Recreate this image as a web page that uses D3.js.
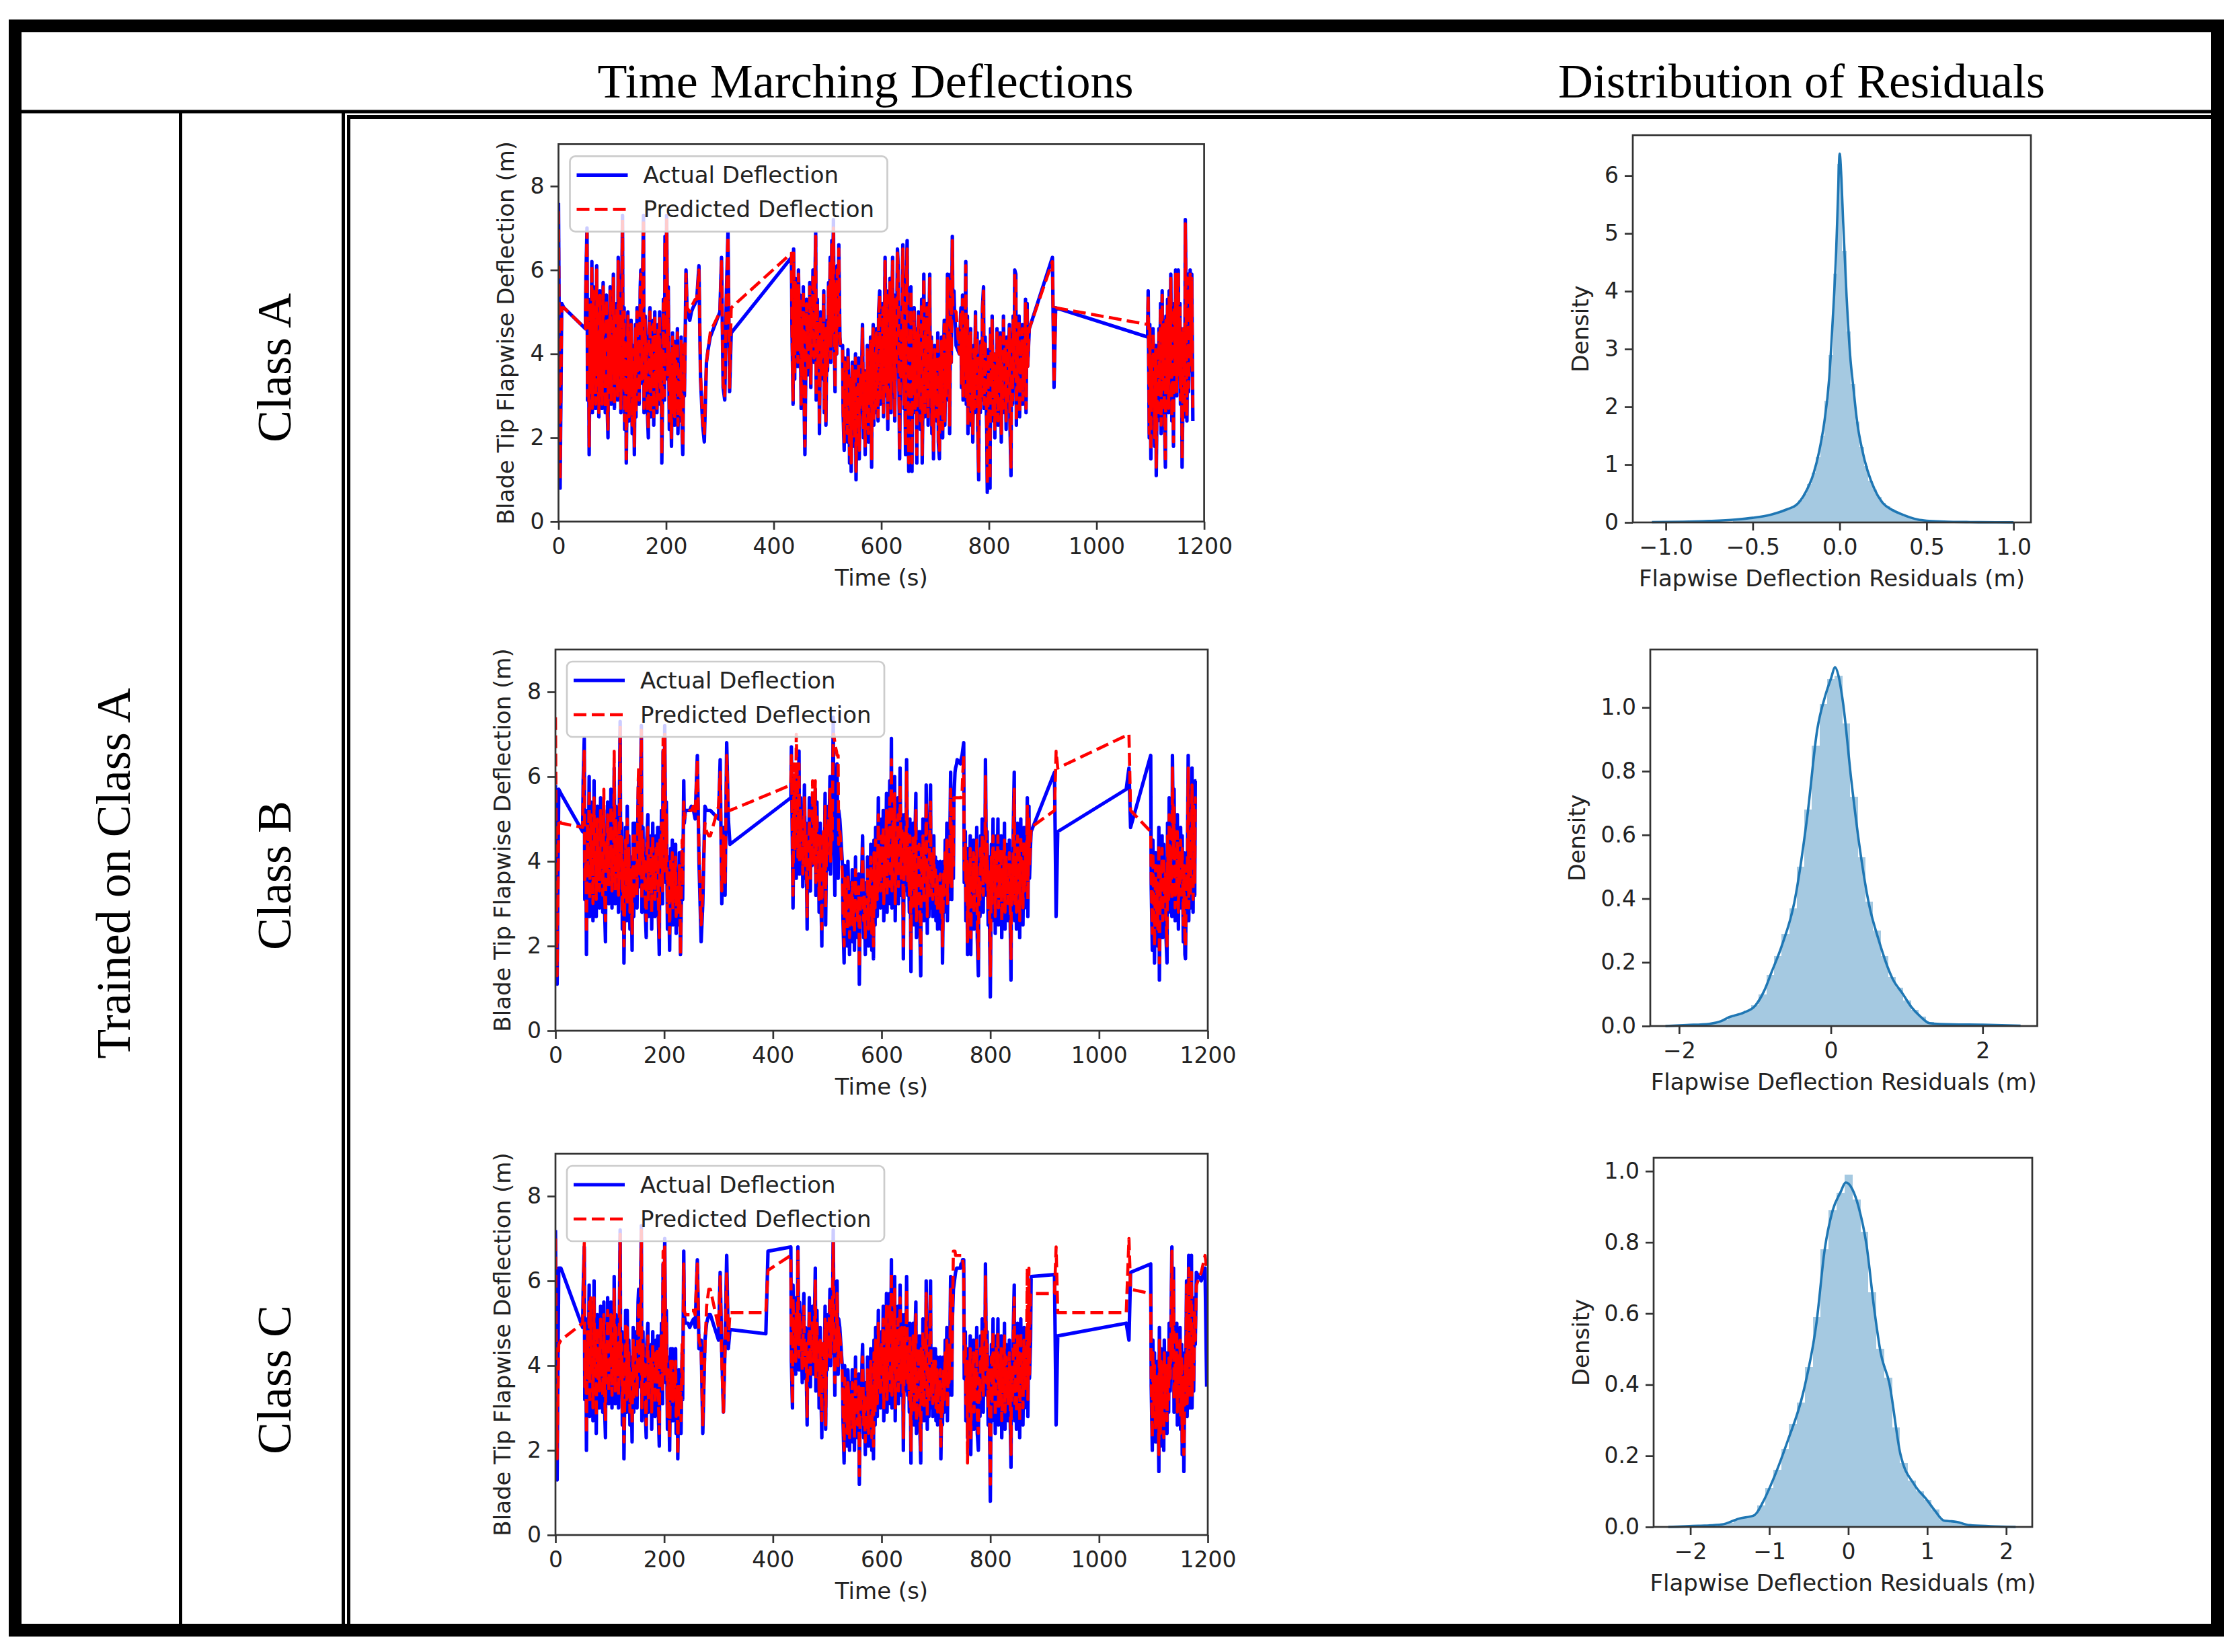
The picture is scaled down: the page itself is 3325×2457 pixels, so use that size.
<!DOCTYPE html>
<html>
<head>
<meta charset="utf-8">
<script src="https://cdn.jsdelivr.net/npm/d3@7"></script>
<style>
  body { margin: 0; background: #fff; }
  svg { display: block; }
</style>
</head>
<body>
<script>
// ---- data ----
const colHeaders = ["Time Marching Deflections", "Distribution of Residuals"]
const rowGroup = "Trained on Class A"
const classes = ["Class A", "Class B", "Class C"]
const seriesNames = ["Actual Deflection", "Predicted Deflection"]

// shared time stamps (s) of the test records, one line per record block
const timeSteps = [
  0, 3, 6, 10,
  50, 51, 53, 54, 56, 57, 59, 60, 62, 63, 65, 66, 68, 69, 71, 72, 74, 75, 77, 78, 80, 81, 83, 84, 86, 87, 89, 90, 92, 93,
  95, 96, 98, 99, 101, 102, 104, 105, 107, 108, 110, 111, 113, 114, 116, 117, 119, 120, 122, 123, 125, 126, 128, 129, 131, 132, 134, 135, 137, 138,
  140, 141, 143, 144, 146, 147, 149, 150, 152, 153, 155, 156, 158, 159, 161, 162, 164, 165, 167, 168, 170, 171, 173, 174, 176, 177, 179, 180, 182, 183,
  185, 186, 188, 189, 191, 192, 194, 195, 197, 198, 200, 201, 203, 204, 206, 207, 209, 210, 212, 213, 215, 216, 218, 219, 221, 222, 224, 225, 227, 228,
  230, 231, 233, 234, 236, 237, 239,
  244, 247, 250, 254, 257, 261, 264, 268, 271, 275, 278, 282, 285, 300, 303, 306, 309, 312, 315, 318, 321,
  387, 391,
  433, 434, 436, 437, 439, 440, 442, 443, 445, 446, 448, 449, 451, 452, 454, 455, 457, 458, 460, 461, 463, 464, 466, 467, 469, 470, 472, 473, 475, 476,
  478, 479, 481, 482, 484, 485, 487, 488, 490, 491, 493, 494, 496, 497, 499, 500, 502, 503, 505, 506, 508, 509, 511, 512, 514, 515, 517, 518, 520, 521,
  523, 524,
  528, 529, 531, 532, 534, 535, 537, 538, 540, 541, 543, 544, 546, 547, 549, 550, 552, 553, 555, 556, 558, 559, 561, 562, 564, 565, 567, 568, 570, 571,
  573, 574, 576, 577, 579, 580, 582, 583, 585, 586, 588, 589, 591, 592, 594, 595, 597, 598, 600, 601, 603, 604, 606, 607, 609, 610, 612, 613, 615, 616,
  618, 619, 621, 622, 624, 625, 627, 628, 630, 631, 633, 634, 636, 637, 639, 640, 642, 643, 645, 646, 648, 649, 651, 652, 654, 655, 657, 658, 660, 661,
  663, 664, 666, 667, 669, 670, 672, 673, 675, 676, 678, 679, 681, 682, 684, 685, 687, 688, 690, 691, 693, 694, 696, 697, 699, 700, 702, 703, 705, 706,
  708, 709, 711, 712, 714, 715, 717, 718, 720, 721, 723, 724, 726, 727, 729, 730, 732, 733, 735, 736, 738, 739,
  745, 746, 748, 749, 751, 752, 754, 755, 757, 758, 760, 761, 763, 764, 766, 767, 769, 770, 772, 773, 775, 776, 778, 779, 781, 782, 784, 785, 787, 788,
  790, 791, 793, 794, 796, 797, 799, 800, 802, 803, 805, 806, 808, 809, 811, 812, 814, 815, 817, 818, 820, 821, 823, 824, 826, 827, 829, 830, 832, 833,
  835, 836, 838, 839, 841, 842, 844, 845, 847, 848, 850, 851, 853, 854, 856, 857, 859, 860, 862, 863, 865, 866, 868, 869, 871, 872, 874, 875,
  918, 921, 924,
  1050, 1055, 1058,
  1095, 1096, 1098, 1099, 1101, 1102, 1104, 1105, 1107, 1108, 1110, 1111, 1113, 1114, 1116, 1117, 1119, 1120, 1122, 1123,
  1125, 1126, 1128, 1129, 1131, 1132, 1134, 1135, 1137, 1138, 1140, 1141, 1143, 1144, 1146, 1147, 1149, 1150, 1152, 1153,
  1155, 1156, 1158, 1159, 1161, 1162, 1164, 1165, 1167, 1168, 1170, 1171, 1173, 1174, 1176, 1177, 1179,
  1188, 1195, 1198
]

const actualA = [
  7.6, 0.8, 5.2, 5.1,
  4.6, 5.8, 7.0, 2.9, 4.4, 1.6, 5.3, 3.0, 6.2, 2.6, 5.6, 3.2, 4.9, 2.7, 6.1, 3.5, 4.6, 2.5, 5.5, 3.1, 4.8, 2.7, 5.7, 3.4, 4.3, 2.6, 5.4, 3.0, 2.0, 4.9,
  3.2, 5.6, 2.8, 4.5, 3.6, 5.9, 2.7, 4.7, 3.3, 5.2, 2.9, 6.3, 3.4, 5.0, 2.6, 4.8, 7.3, 3.1, 5.1, 2.2, 4.4, 1.4, 3.9, 5.0, 2.4, 4.6, 2.9, 4.8, 2.1, 4.2,
  3.0, 1.6, 4.7, 2.5, 5.1, 3.6, 4.4, 2.8, 5.6, 6.0, 3.3, 5.5, 7.3, 2.6, 4.9, 3.2, 4.4, 2.7, 2.0, 4.6, 5.1, 2.5, 4.3, 3.3, 4.8, 2.3, 5.0, 3.1, 4.5, 2.6,
  4.7, 3.4, 5.0, 2.8, 4.2, 1.4, 3.7, 5.3, 2.9, 6.8, 4.1, 7.3, 3.4, 5.6, 2.2, 4.0, 2.7, 1.8, 4.5, 2.6, 4.3, 2.3, 3.9, 2.9, 4.6, 2.1, 3.6, 3.3, 2.4, 4.4,
  2.0, 1.6, 4.2, 3.0, 4.9, 6.0, 5.0,
  4.8, 5.0, 5.1, 5.2, 5.3, 6.1, 3.4, 2.3, 1.9, 3.8, 4.1, 4.4, 4.5, 5.0, 6.3, 3.2, 2.9, 5.4, 6.9, 3.1, 4.5,
  null, null,
  6.3, 4.6, 2.8, 6.5, 3.4, 5.8, 4.1, 5.5, 3.7, 6.0, 4.2, 5.4, 2.7, 4.9, 3.6, 5.6, 2.4, 1.6, 4.1, 5.3, 3.5, 5.0, 4.1, 5.7, 3.2, 5.2, 4.4, 6.0, 3.8, 5.1,
  6.9, 2.9, 5.3, 3.8, 4.6, 2.1, 5.0, 3.4, 4.8, 3.9, 5.5, 2.6, 4.4, 2.3, 4.8, 3.6, 5.7, 4.3, 6.3, 3.8, 6.7, 4.5, 7.2, 5.0, 3.1, 5.8, 4.0, 6.1, 4.7, 6.6,
  4.4, 4.2,
  4.2, 2.6, 1.7, 3.9, 2.4, 3.6, 1.9, 4.1, 2.8, 1.4, 3.4, 1.2, 3.8, 2.2, 3.5, 1.8, 4.0, 1.0, 3.2, 2.4, 3.9, 1.5, 3.4, 2.7, 4.0, 4.7, 2.0, 3.6, 1.6, 3.3,
  2.5, 4.2, 1.9, 3.7, 2.8, 4.4, 1.3, 3.9, 4.7, 2.3, 4.1, 2.6, 4.6, 3.1, 2.4, 5.0, 5.5, 2.8, 4.4, 3.2, 5.2, 2.5, 4.8, 6.3, 3.0, 5.5, 2.2, 4.7, 3.6, 5.8,
  2.6, 4.3, 6.3, 3.2, 5.4, 2.4, 4.9, 3.7, 6.5, 6.2, 2.9, 1.5, 4.6, 3.3, 5.7, 6.6, 2.7, 4.8, 1.6, 5.2, 6.7, 3.4, 1.2, 4.5, 2.8, 5.6, 1.2, 4.1, 3.0, 5.1,
  2.6, 4.6, 1.4, 3.8, 5.0, 2.9, 4.3, 2.2, 5.3, 1.4, 3.6, 5.9, 2.5, 4.7, 3.1, 5.2, 2.3, 4.0, 5.9, 2.8, 4.4, 2.1, 3.7, 1.5, 4.2, 2.9, 3.8, 2.4, 4.5, 1.9,
  1.5, 3.9, 2.6, 4.4, 2.0, 3.5, 4.8, 2.3, 4.1, 2.9, 5.9, 3.2, 4.6, 2.1, 5.9, 3.8, 6.8, 4.9, 5.5, 5.0, 4.6, 4.2,
  4.0, 4.4, 5.1, 3.2, 5.4, 2.9, 4.7, 3.6, 6.2, 2.8, 4.9, 2.1, 4.4, 3.0, 4.6, 2.3, 3.8, 1.9, 4.2, 2.6, 5.0, 3.2, 4.5, 2.4, 1.0, 3.9, 2.6, 4.3, 2.9, 5.1,
  5.6, 2.7, 4.4, 3.3, 2.2, 0.7, 4.1, 2.5, 0.8, 4.6, 3.1, 4.9, 2.4, 4.0, 2.0, 3.7, 2.8, 4.6, 2.3, 4.2, 3.0, 4.5, 1.9, 3.8, 2.6, 4.9, 3.2, 4.3, 2.2, 4.4,
  2.7, 3.9, 4.7, 2.4, 1.1, 4.5, 2.8, 4.9, 3.3, 6.0, 5.9, 2.3, 4.6, 3.0, 4.9, 2.5, 4.2, 3.4, 4.7, 2.8, 4.4, 3.1, 5.3, 2.6, 5.2, 3.7, 4.3, 4.6,
  6.3, 3.2, 5.1,
  null, null, null,
  4.4, 5.5, 2.0, 4.7, 1.5, 3.9, 2.6, 4.6, 3.1, 1.8, 4.2, 1.1, 3.6, 2.4, 4.6, 2.9, 5.2, 2.1, 5.5, 3.3,
  4.8, 2.7, 1.3, 4.9, 3.2, 5.3, 2.6, 5.5, 3.6, 5.9, 2.4, 4.8, 1.8, 5.2, 3.7, 6.0, 3.0, 5.6, 6.0, 3.5,
  5.2, 2.8, 4.6, 1.3, 3.4, 4.6, 2.5, 7.2, 4.4, 2.4, 5.9, 3.1, 4.8, 6.0, 3.6, 5.9, 2.4,
  null, null, null
]
const predictedA = [
  7.4, 1.0, 5.1, 5.1,
  4.6, 5.7, 6.9, 3.0, 4.3, 1.8, 5.2, 3.1, 6.1, 2.7, 5.5, 3.3, 4.8, 2.8, 6.0, 3.5, 4.5, 2.6, 5.4, 3.2, 4.7, 2.8, 5.6, 3.4, 4.3, 2.7, 5.3, 3.1, 2.2, 4.8,
  3.3, 5.5, 2.9, 4.4, 3.6, 5.8, 2.8, 4.6, 3.4, 5.1, 3.0, 6.2, 3.5, 4.9, 2.7, 4.7, 7.2, 3.2, 5.0, 2.4, 4.3, 1.5, 3.9, 4.9, 2.5, 4.5, 3.0, 4.7, 2.3, 4.1,
  3.1, 1.8, 4.6, 2.6, 5.0, 3.6, 4.3, 2.9, 5.5, 5.9, 3.4, 5.4, 7.2, 2.7, 4.8, 3.3, 4.3, 2.8, 2.2, 4.5, 5.0, 2.6, 4.2, 3.4, 4.7, 2.5, 4.9, 3.2, 4.4, 2.7,
  4.6, 3.5, 4.9, 2.9, 4.1, 1.6, 3.7, 5.2, 3.0, 6.7, 4.1, 7.2, 3.5, 5.5, 2.4, 4.0, 2.8, 2.0, 4.4, 2.7, 4.2, 2.5, 3.9, 3.0, 4.5, 2.3, 3.6, 3.4, 2.5, 4.3,
  2.2, 1.8, 4.2, 3.1, 4.8, 5.9, 5.1,
  5.0, 5.1, 5.2, 5.3, 5.3, 6.0, 3.5, 2.4, 2.1, 3.8, 4.1, 4.5, 4.6, 5.0, 6.2, 3.3, 3.0, 5.3, 6.8, 3.2, 5.1,
  null, null,
  6.4, 4.6, 2.9, 6.4, 3.5, 5.7, 4.1, 5.4, 3.8, 5.9, 4.2, 5.3, 2.8, 4.8, 3.7, 5.5, 2.6, 1.8, 4.1, 5.2, 3.6, 4.9, 4.1, 5.6, 3.3, 5.1, 4.4, 5.9, 3.9, 5.0,
  6.8, 3.0, 5.2, 3.8, 4.5, 2.3, 4.9, 3.5, 4.7, 3.9, 5.4, 2.7, 4.3, 2.4, 4.7, 3.7, 5.6, 4.3, 6.2, 3.9, 6.6, 4.5, 7.0, 5.0, 3.2, 5.7, 4.0, 6.0, 4.7, 6.5,
  4.4, 4.2,
  4.1, 2.7, 1.9, 3.8, 2.5, 3.6, 2.1, 4.0, 2.9, 1.6, 3.4, 1.4, 3.7, 2.3, 3.5, 2.0, 3.9, 1.2, 3.2, 2.5, 3.8, 1.7, 3.4, 2.8, 3.9, 4.6, 2.2, 3.6, 1.8, 3.3,
  2.6, 4.1, 2.1, 3.7, 2.9, 4.3, 1.5, 3.8, 4.6, 2.4, 4.0, 2.7, 4.5, 3.2, 2.5, 4.9, 5.4, 2.9, 4.3, 3.3, 5.1, 2.6, 4.7, 6.2, 3.1, 5.4, 2.4, 4.6, 3.6, 5.7,
  2.7, 4.3, 6.2, 3.3, 5.3, 2.5, 4.8, 3.7, 6.4, 6.1, 3.0, 1.7, 4.5, 3.4, 5.6, 6.5, 2.8, 4.7, 1.8, 5.1, 6.5, 3.5, 1.4, 4.4, 2.9, 5.5, 1.4, 4.1, 3.1, 5.0,
  2.7, 4.5, 1.6, 3.8, 4.9, 3.0, 4.2, 2.4, 5.2, 1.6, 3.6, 5.8, 2.6, 4.6, 3.2, 5.1, 2.5, 4.0, 5.8, 2.9, 4.3, 2.3, 3.7, 1.7, 4.1, 3.0, 3.8, 2.5, 4.4, 2.1,
  1.7, 3.9, 2.7, 4.3, 2.2, 3.5, 4.7, 2.4, 4.0, 3.0, 5.8, 3.3, 4.5, 2.3, 5.8, 3.8, 6.7, 5.1, 5.1, 5.1, 5.0, 5.0,
  4.0, 4.3, 5.0, 3.3, 5.3, 3.0, 4.6, 3.6, 6.1, 2.9, 4.8, 2.3, 4.3, 3.1, 4.5, 2.4, 3.8, 2.1, 4.1, 2.7, 4.9, 3.3, 4.4, 2.5, 1.2, 3.9, 2.7, 4.2, 3.0, 5.0,
  5.5, 2.8, 4.3, 3.4, 2.4, 0.9, 4.0, 2.6, 1.0, 4.5, 3.2, 4.8, 2.5, 4.0, 2.2, 3.7, 2.9, 4.5, 2.4, 4.1, 3.1, 4.4, 2.1, 3.8, 2.7, 4.8, 3.3, 4.2, 2.4, 4.3,
  2.8, 3.9, 4.6, 2.5, 1.3, 4.4, 2.9, 4.8, 3.4, 5.9, 5.8, 2.4, 4.5, 3.1, 4.8, 2.6, 4.1, 3.5, 4.6, 2.9, 4.3, 3.2, 5.2, 2.7, 5.1, 3.7, 4.3, 4.6,
  6.2, 3.3, 5.1,
  null, null, null,
  4.7, 5.4, 2.1, 4.6, 1.7, 3.9, 2.7, 4.5, 3.2, 2.0, 4.1, 1.3, 3.6, 2.5, 4.5, 3.0, 5.1, 2.3, 5.4, 3.4,
  4.7, 2.8, 1.5, 4.8, 3.3, 5.2, 2.7, 5.4, 3.6, 5.8, 2.5, 4.7, 1.9, 5.1, 3.7, 5.9, 3.1, 5.5, 5.9, 3.5,
  5.1, 2.9, 4.5, 1.5, 3.5, 4.6, 2.6, 7.1, 4.4, 2.5, 5.8, 3.2, 4.7, 5.9, 3.7, 5.8, 2.6,
  null, null, null
]

const actualB = [
  5.8, 1.1, 5.7, 5.6,
  4.7, 5.9, 6.9, 3.1, 4.5, 1.8, 5.2, 3.2, 6.0, 2.7, 5.4, 3.4, 4.8, 2.6, 5.9, 3.6, 4.4, 2.7, 5.3, 3.2, 4.6, 2.9, 5.5, 3.5, 4.2, 2.8, 5.2, 3.1, 2.1, 4.7,
  3.4, 5.4, 3.0, 4.4, 3.7, 5.7, 2.9, 4.6, 3.4, 6.2, 3.0, 5.3, 3.5, 4.9, 2.8, 4.6, 7.3, 3.3, 4.9, 2.4, 4.3, 1.6, 3.8, 4.8, 2.6, 5.3, 3.0, 4.6, 2.4, 4.1,
  2.9, 1.9, 4.9, 2.7, 4.9, 3.7, 4.3, 2.9, 5.4, 5.9, 3.4, 5.3, 7.2, 2.8, 4.8, 3.3, 4.3, 2.9, 2.2, 4.5, 5.1, 2.7, 4.2, 3.4, 4.6, 2.4, 4.9, 3.2, 4.4, 2.7,
  4.6, 3.5, 4.8, 2.9, 1.8, 4.8, 3.6, 5.2, 3.0, 6.6, 4.0, 7.2, 3.5, 5.4, 2.4, 4.1, 2.8, 1.9, 4.3, 2.8, 4.5, 2.5, 4.0, 3.0, 4.4, 2.3, 3.7, 3.4, 2.5, 4.2,
  1.8, 2.6, 4.2, 3.1, 5.9, 4.9, 5.2,
  5.2, 5.2, 5.3, 5.2, 5.0, 6.5, 4.0, 2.1, 3.0, 5.3, 5.2, 5.2, 5.2, 5.0, 6.4, 3.0, 4.8, 3.2, 6.8, 5.0, 4.4,
  null, null,
  5.5, 6.7, 4.2, 2.9, 5.8, 4.0, 5.3, 3.6, 6.1, 4.4, 6.6, 3.7, 5.5, 4.3, 5.0, 3.4, 4.6, 5.8, 3.6, 4.9, 2.4, 4.7, 4.1, 5.5, 3.3, 5.1, 3.9, 5.6, 4.2, 5.0,
  5.7, 3.2, 5.4, 4.0, 4.6, 2.8, 4.9, 3.5, 2.0, 4.4, 4.6, 3.1, 5.6, 2.5, 4.9, 3.8, 5.3, 4.5, 6.0, 3.7, 5.6, 4.2, 7.4, 5.1, 3.2, 5.5, 4.4, 6.3, 3.6, 5.2,
  5.0, 4.8,
  3.9, 2.6, 1.6, 3.9, 2.3, 3.6, 2.0, 4.0, 2.8, 1.8, 3.5, 2.4, 3.8, 2.1, 3.4, 1.9, 4.1, 2.5, 3.3, 2.2, 3.7, 1.1, 3.5, 2.6, 4.0, 4.6, 2.2, 3.5, 1.8, 3.4,
  2.6, 4.1, 2.0, 3.8, 2.9, 4.4, 1.9, 3.7, 1.7, 4.5, 2.5, 4.8, 3.2, 2.7, 5.5, 3.1, 4.6, 2.9, 5.0, 3.4, 5.2, 2.6, 4.6, 3.3, 5.6, 2.8, 4.9, 3.8, 5.9, 3.0,
  6.9, 2.9, 5.3, 3.5, 6.0, 2.6, 4.8, 3.6, 5.5, 3.0, 4.8, 6.2, 3.2, 5.1, 3.9, 1.7, 5.1, 3.3, 4.6, 6.4, 3.2, 4.6, 2.8, 5.0, 1.4, 4.5, 3.0, 4.9, 2.5, 4.3,
  5.6, 2.2, 4.0, 3.4, 4.7, 2.6, 1.3, 4.7, 3.0, 5.0, 2.6, 4.4, 3.5, 5.8, 2.3, 4.2, 2.7, 4.6, 5.8, 2.9, 4.3, 2.7, 4.6, 3.3, 4.1, 2.6, 4.0, 2.4, 3.6, 2.9,
  4.0, 2.4, 3.7, 1.6, 4.0, 2.8, 4.5, 3.1, 4.9, 2.6, 4.4, 3.1, 5.0, 6.1, 3.1, 5.0, 3.6, 5.5, 6.1, 6.2, 6.3, 6.4,
  6.3, 6.4, 6.5, 6.6, 6.8, 3.5, 4.7, 2.6, 4.3, 1.8, 4.2, 2.5, 4.6, 1.8, 3.9, 2.9, 4.5, 2.4, 4.1, 3.0, 4.8, 2.2, 1.3, 3.9, 2.7, 4.6, 3.3, 5.0, 2.8, 4.4,
  3.5, 6.4, 3.2, 4.7, 2.5, 4.1, 2.0, 0.8, 4.4, 2.6, 5.0, 2.9, 4.3, 2.3, 4.6, 3.2, 5.0, 2.5, 4.2, 2.8, 4.6, 2.2, 4.1, 3.0, 4.9, 2.4, 4.4, 2.9, 4.0, 2.6,
  4.5, 3.1, 1.2, 4.2, 2.7, 4.6, 6.1, 2.6, 4.4, 2.4, 4.9, 2.9, 4.5, 2.2, 5.0, 3.1, 4.3, 2.5, 4.8, 2.9, 4.6, 3.2, 5.5, 2.7, 5.3, 3.6, 4.4, 4.7,
  6.1, 2.7, 4.7,
  5.7, 6.2, 4.8,
  6.5, 3.4, 1.9, 4.5, 2.6, 1.6, 4.2, 2.4, 3.8, 2.0, 4.8, 1.2, 4.1, 2.6, 4.6, 2.2, 4.4, 2.9, 4.0, 2.3,
  1.6, 4.9, 2.8, 5.5, 3.2, 4.4, 2.7, 6.5, 3.8, 5.7, 2.6, 4.5, 3.1, 5.1, 2.4, 4.5, 2.9, 4.8, 3.3, 4.6,
  2.1, 4.2, 1.8, 1.7, 4.2, 3.0, 6.5, 2.6, 5.0, 2.9, 4.8, 6.2, 2.8, 5.6, 3.2, 5.9, 5.9,
  null, null, null
]
const predictedB = [
  7.4, 1.3, 5.0, 4.9,
  4.8, 5.5, 6.6, 3.5, 4.2, 2.3, 4.9, 3.6, 5.7, 3.1, 5.1, 3.7, 4.5, 3.0, 5.5, 3.9, 4.1, 3.1, 5.0, 3.6, 4.3, 3.3, 5.2, 3.8, 4.0, 3.2, 5.7, 3.4, 2.6, 4.4,
  3.8, 5.1, 3.4, 4.1, 4.0, 5.3, 3.3, 4.3, 3.7, 6.6, 3.3, 5.0, 3.8, 4.6, 3.2, 4.3, 7.2, 3.6, 4.6, 2.8, 4.0, 2.0, 3.5, 4.5, 3.0, 5.0, 3.3, 4.3, 2.8, 3.8,
  3.2, 2.3, 4.6, 3.1, 4.6, 4.0, 4.0, 3.2, 5.8, 6.2, 3.7, 5.0, 7.1, 3.1, 4.5, 3.6, 4.0, 3.2, 2.6, 4.2, 4.8, 3.1, 3.9, 3.7, 4.3, 2.8, 4.6, 3.5, 4.1, 3.1,
  4.3, 3.8, 4.5, 3.2, 2.2, 4.5, 3.9, 4.9, 3.3, 6.9, 3.7, 7.0, 3.8, 5.1, 2.8, 3.8, 3.1, 2.3, 4.0, 3.2, 4.2, 2.9, 3.7, 3.3, 4.1, 2.7, 3.4, 3.1, 2.8, 3.9,
  1.8, 2.9, 4.5, 3.4, 5.4, 5.0, 5.1,
  5.1, 5.2, 5.2, 5.3, 5.1, 6.4, 4.3, 2.5, 3.3, 4.9, 4.7, 4.6, 4.6, 5.3, 6.1, 3.3, 4.6, 3.5, 6.5, 5.2, 5.2,
  null, null,
  5.8, 6.5, 4.5, 3.2, 6.3, 4.3, 5.0, 7.0, 5.8, 4.1, 6.3, 4.0, 5.2, 4.6, 4.7, 3.7, 4.9, 5.5, 3.9, 4.6, 2.7, 4.4, 4.4, 5.2, 3.6, 4.8, 4.2, 5.9, 3.9, 4.7,
  5.9, 3.5, 5.1, 4.3, 4.3, 3.1, 4.6, 3.8, 2.4, 4.2, 4.7, 3.4, 5.3, 2.9, 4.6, 4.1, 5.0, 4.8, 5.7, 4.0, 5.3, 4.5, 7.0, 7.0, 6.8, 6.7, 6.6, 6.5, 6.5, 4.4,
  4.7, 4.6,
  3.6, 2.9, 2.0, 3.6, 2.7, 3.3, 2.4, 3.7, 3.1, 2.2, 3.2, 2.8, 3.5, 2.5, 3.1, 2.3, 3.8, 2.9, 3.0, 2.6, 3.4, 1.5, 3.2, 3.0, 3.7, 4.3, 2.6, 3.2, 2.2, 3.1,
  3.0, 3.8, 2.4, 3.5, 3.3, 4.1, 2.3, 3.4, 2.0, 4.2, 2.9, 4.5, 3.5, 3.1, 5.1, 3.5, 4.3, 3.3, 4.6, 3.7, 4.8, 3.0, 4.3, 3.7, 5.2, 3.2, 4.6, 4.1, 5.5, 3.4,
  6.4, 3.3, 4.9, 3.9, 5.6, 3.0, 4.5, 3.9, 5.1, 3.4, 4.5, 5.8, 3.6, 4.8, 4.2, 2.0, 4.7, 3.7, 4.3, 6.1, 3.5, 4.3, 3.2, 4.6, 1.9, 4.2, 3.4, 4.6, 2.9, 4.0,
  5.2, 2.6, 3.7, 3.8, 4.4, 3.0, 1.8, 4.3, 3.4, 4.6, 3.0, 4.1, 3.8, 5.4, 2.7, 3.9, 3.1, 4.3, 5.4, 3.2, 4.0, 3.1, 4.3, 3.6, 3.8, 3.0, 3.7, 2.8, 3.3, 3.2,
  3.7, 2.8, 3.4, 2.0, 3.7, 3.2, 4.2, 3.5, 4.5, 3.0, 4.1, 3.5, 4.6, 5.7, 3.4, 4.7, 3.9, 5.5, 5.5, 5.5, 5.5, 5.5,
  5.5, 5.5, 5.6, 6.0, 6.5, 3.8, 4.4, 3.0, 4.0, 2.1, 3.9, 2.9, 4.3, 2.2, 3.6, 3.3, 4.2, 2.8, 3.8, 3.4, 4.5, 2.6, 1.7, 3.6, 3.1, 4.3, 3.7, 4.6, 3.2, 4.1,
  3.8, 6.0, 3.5, 4.4, 2.9, 3.8, 2.4, 1.3, 4.1, 3.0, 4.6, 3.3, 4.0, 2.7, 4.3, 3.5, 4.6, 2.9, 3.9, 3.2, 4.3, 2.6, 3.8, 3.4, 4.5, 2.8, 4.1, 3.3, 3.7, 3.0,
  4.2, 3.4, 1.7, 3.9, 3.1, 4.3, 5.7, 3.0, 4.1, 2.8, 4.6, 3.3, 4.2, 2.6, 4.6, 3.5, 4.0, 2.9, 4.5, 3.3, 4.3, 3.6, 5.3, 3.1, 5.0, 3.9, 4.5, 4.8,
  5.2, 6.6, 6.2,
  null, 7.0, 5.2,
  4.7, 3.6, 2.3, 4.2, 2.9, 2.0, 3.9, 2.8, 3.5, 2.4, 4.4, 1.6, 3.8, 3.0, 4.3, 2.6, 4.1, 3.2, 3.7, 2.7,
  2.0, 4.6, 3.1, 5.1, 3.5, 4.1, 3.1, 6.2, 4.1, 5.3, 2.9, 4.2, 3.4, 4.7, 2.8, 4.2, 3.2, 4.5, 3.6, 4.3,
  2.5, 3.9, 2.1, 2.0, 3.9, 3.3, 6.2, 2.9, 4.7, 3.2, 4.5, 5.8, 3.1, 5.3, 3.5, 5.5, 5.5,
  null, null, null
]

const actualC = [
  7.2, 1.3, 6.3, 6.3,
  4.9, 5.8, 6.8, 3.2, 4.6, 2.0, 5.1, 3.4, 5.9, 2.8, 5.5, 3.5, 4.7, 2.7, 6.0, 3.7, 4.5, 2.4, 5.2, 3.3, 4.6, 3.0, 5.4, 3.6, 4.3, 2.9, 5.5, 3.2, 2.3, 4.7,
  3.5, 5.6, 3.1, 4.4, 3.8, 5.5, 3.0, 4.7, 3.5, 6.1, 3.1, 5.2, 3.6, 4.8, 3.0, 4.5, 7.2, 3.4, 4.8, 2.6, 4.4, 1.8, 3.9, 5.3, 2.9, 5.3, 3.2, 4.6, 2.6, 4.2,
  3.0, 2.2, 4.9, 2.9, 4.8, 3.8, 4.4, 3.0, 5.5, 5.8, 3.5, 5.2, 7.3, 2.7, 4.8, 3.4, 4.4, 3.0, 2.3, 4.5, 5.0, 2.9, 4.3, 3.5, 4.5, 2.5, 4.8, 3.3, 4.3, 2.8,
  4.6, 3.6, 4.7, 3.0, 2.1, 4.7, 3.7, 5.0, 3.1, 6.4, 4.1, 7.0, 3.6, 5.3, 2.5, 4.2, 2.9, 2.0, 4.4, 3.0, 4.4, 2.7, 4.1, 3.2, 4.4, 2.4, 3.8, 1.8, 3.9, 2.8,
  3.6, 2.4, 4.3, 3.2, 6.7, 5.2, 5.0,
  5.0, 4.9, 5.0, 5.1, 4.9, 6.5, 4.4, 4.6, 2.4, 4.6, 5.0, 5.2, 5.2, 4.6, 6.2, 4.3, 2.9, 4.5, 6.6, 4.4, 4.85,
  4.75, 6.7,
  6.8, 4.1, 3.0, 5.9, 4.2, 5.4, 3.8, 5.6, 4.5, 6.8, 3.9, 5.5, 4.4, 5.0, 3.6, 4.8, 5.7, 3.7, 4.9, 4.2, 2.6, 4.8, 4.3, 5.6, 3.5, 5.0, 4.1, 5.4, 3.8, 4.7,
  6.3, 3.4, 5.3, 4.2, 4.7, 3.0, 4.9, 3.6, 2.3, 4.5, 4.4, 3.2, 5.4, 2.5, 5.2, 3.9, 4.6, 4.6, 5.8, 4.0, 5.6, 4.3, 7.2, 5.5, 3.3, 4.9, 4.2, 6.0, 3.8, 5.1,
  4.9, 4.7,
  3.9, 2.7, 1.7, 4.0, 2.4, 3.8, 2.1, 3.9, 2.9, 2.0, 3.6, 2.5, 3.9, 2.2, 3.5, 2.0, 4.2, 2.6, 3.4, 2.3, 3.8, 1.2, 3.6, 2.7, 4.1, 4.5, 2.3, 3.6, 1.9, 3.5,
  2.7, 4.2, 2.1, 3.9, 3.0, 4.4, 2.0, 3.8, 1.8, 4.6, 2.6, 4.9, 3.3, 2.8, 5.3, 3.2, 4.7, 3.0, 4.8, 3.5, 5.4, 2.7, 4.7, 3.4, 5.7, 2.9, 5.0, 3.9, 5.7, 3.1,
  6.5, 3.0, 5.4, 3.6, 6.1, 2.7, 4.9, 3.7, 5.4, 3.1, 4.9, 5.9, 3.3, 5.2, 4.0, 2.0, 5.2, 3.4, 4.7, 6.1, 3.3, 4.6, 2.9, 5.0, 1.7, 4.6, 3.1, 5.0, 2.6, 4.4,
  5.5, 2.4, 4.1, 3.5, 4.7, 2.7, 1.7, 4.7, 3.1, 5.1, 2.7, 4.4, 3.6, 6.0, 2.5, 4.3, 2.8, 4.4, 6.0, 3.0, 4.3, 2.8, 4.4, 3.4, 4.4, 2.7, 4.2, 2.6, 3.7, 3.0,
  4.2, 1.8, 3.7, 2.6, 4.2, 2.9, 4.6, 3.3, 4.9, 2.7, 4.6, 3.3, 5.0, 6.1, 3.3, 5.0, 5.8, 5.9, 6.1, 6.2, 6.3, 6.3,
  6.3, 6.4, 6.4, 6.5, 6.5, 3.7, 4.8, 2.7, 4.4, 2.3, 4.3, 2.6, 4.7, 1.9, 4.0, 3.0, 4.6, 2.5, 4.2, 3.1, 4.9, 2.4, 2.0, 4.0, 2.8, 4.7, 3.4, 5.1, 2.9, 4.5,
  3.6, 6.4, 3.3, 4.8, 2.6, 4.2, 2.1, 0.8, 4.5, 2.7, 5.1, 3.0, 4.4, 2.4, 4.7, 3.3, 5.1, 2.6, 4.3, 2.9, 4.7, 2.3, 4.2, 3.1, 5.0, 2.5, 4.5, 3.0, 4.1, 2.7,
  4.6, 3.2, 1.6, 4.3, 2.8, 4.7, 5.9, 2.7, 4.5, 2.5, 5.0, 3.0, 4.6, 2.3, 5.1, 3.2, 4.4, 2.6, 4.9, 3.0, 4.7, 3.3, 4.9, 2.8, 5.2, 3.7, 4.6, 6.1,
  6.15, 2.6, 4.7,
  5.0, 4.6, 6.2,
  6.4, 3.5, 2.0, 4.6, 2.8, 4.3, 2.2, 3.9, 2.5, 4.1, 1.5, 4.9, 2.1, 4.4, 2.5, 4.3, 2.0, 4.6, 2.7, 4.3,
  2.4, 4.3, 2.9, 5.0, 3.4, 4.6, 6.8, 4.0, 6.3, 2.9, 4.4, 3.1, 5.0, 2.6, 4.4, 3.3, 4.9, 2.5, 4.5, 1.9,
  4.0, 1.5, 4.3, 3.1, 6.0, 2.8, 4.7, 6.6, 3.0, 4.9, 6.6, 3.0, 5.2, 3.4, 5.6, 4.5, 6.2,
  6.0, 6.3, 3.5
]
const predictedC = [
  7.0, 1.8, 4.5, 4.6,
  5.0, 5.5, 6.9, 3.5, 4.3, 2.4, 4.8, 3.7, 5.5, 3.1, 5.6, 3.8, 4.4, 3.0, 5.6, 4.0, 4.8, 2.8, 4.9, 3.7, 4.3, 3.4, 5.1, 3.9, 4.0, 3.3, 5.2, 3.5, 2.7, 4.5,
  3.8, 5.3, 3.4, 4.1, 4.1, 5.2, 3.3, 4.4, 3.8, 5.8, 3.4, 4.9, 3.9, 4.5, 3.3, 4.2, 7.1, 3.7, 4.5, 2.9, 4.1, 2.2, 3.6, 5.0, 3.2, 4.9, 3.5, 4.3, 2.9, 3.9,
  3.3, 2.6, 4.6, 3.2, 4.5, 4.1, 4.1, 3.3, 5.2, 5.5, 3.8, 4.9, 7.2, 3.0, 4.5, 3.7, 4.1, 3.3, 2.6, 4.2, 4.7, 3.2, 4.0, 3.8, 4.2, 2.9, 4.5, 3.6, 4.0, 3.1,
  4.3, 3.9, 4.4, 3.3, 2.4, 4.4, 4.0, 4.7, 3.4, 6.7, 3.8, 6.8, 3.9, 5.0, 2.8, 3.9, 3.2, 2.3, 4.1, 3.4, 4.1, 3.1, 3.8, 3.5, 4.1, 2.8, 3.5, 1.9, 3.6, 3.1,
  3.4, 2.7, 4.5, 3.5, 6.4, 5.3, 5.2,
  5.2, 5.2, 5.3, 5.3, 5.2, 6.4, 4.6, 4.4, 2.6, 4.4, 5.4, 5.8, 5.8, 4.9, 6.1, 4.1, 2.9, 4.4, 6.2, 4.6, 5.25,
  5.25, 6.25,
  6.6, 4.4, 3.1, 5.6, 4.5, 5.1, 4.1, 5.3, 4.8, 6.7, 4.2, 5.2, 4.7, 4.7, 3.9, 4.5, 5.4, 4.0, 4.6, 4.5, 2.8, 4.5, 4.6, 5.3, 3.8, 4.7, 4.4, 5.1, 4.1, 4.4,
  6.0, 3.7, 5.0, 4.5, 4.4, 3.3, 4.6, 3.9, 2.7, 4.3, 4.6, 3.5, 5.1, 2.6, 5.0, 4.2, 4.4, 4.8, 5.6, 4.2, 5.3, 4.6, 6.9, 5.3, 3.6, 4.8, 4.5, 5.7, 4.0, 4.9,
  4.7, 4.6,
  3.7, 3.0, 2.0, 3.7, 2.7, 3.5, 2.4, 3.6, 3.2, 2.3, 3.3, 2.8, 3.6, 2.5, 3.2, 2.3, 3.9, 2.9, 3.1, 2.6, 3.5, 1.4, 3.3, 3.0, 3.8, 4.2, 2.6, 3.3, 2.2, 3.2,
  3.0, 3.9, 2.4, 3.6, 3.3, 4.1, 2.3, 3.5, 2.1, 4.3, 2.9, 4.6, 3.6, 3.1, 5.0, 3.5, 4.4, 3.3, 4.5, 3.8, 5.1, 3.0, 4.4, 3.7, 5.4, 3.2, 4.7, 4.2, 5.4, 3.4,
  6.2, 3.3, 5.1, 3.9, 5.8, 3.0, 4.6, 4.0, 5.1, 3.4, 4.6, 5.6, 3.6, 4.9, 4.3, 2.3, 4.9, 3.7, 4.4, 5.8, 3.6, 4.3, 3.2, 4.7, 2.0, 4.3, 3.4, 4.7, 2.9, 4.1,
  5.2, 2.7, 3.8, 3.8, 4.4, 3.0, 2.0, 4.4, 3.4, 4.8, 3.0, 4.1, 3.9, 5.7, 2.8, 4.0, 3.1, 4.1, 5.7, 3.3, 4.0, 3.1, 4.1, 3.7, 4.1, 3.0, 3.9, 2.9, 3.4, 3.3,
  3.9, 2.1, 3.4, 2.9, 3.9, 3.2, 4.3, 3.6, 4.6, 3.0, 4.3, 3.6, 4.7, 5.8, 3.6, 4.8, 6.7, 6.7, 6.7, 6.6, 6.6, 6.6,
  6.6, 6.6, 6.6, 6.5, 6.3, 4.0, 4.5, 3.1, 4.1, 1.7, 4.0, 3.0, 4.4, 2.3, 3.7, 3.4, 4.3, 2.9, 3.9, 3.5, 4.6, 2.8, 2.4, 3.7, 3.2, 4.4, 3.8, 4.8, 3.3, 4.2,
  3.9, 6.1, 3.6, 4.5, 3.0, 3.9, 2.5, 1.2, 4.2, 3.1, 4.8, 3.4, 4.1, 2.8, 4.4, 3.7, 4.8, 3.0, 4.0, 3.3, 4.4, 2.7, 3.9, 3.5, 4.7, 2.9, 4.2, 3.4, 3.8, 3.1,
  4.3, 3.6, 1.9, 4.0, 3.2, 4.4, 5.6, 3.1, 4.2, 2.9, 4.7, 3.4, 4.3, 2.7, 4.8, 3.6, 4.1, 3.0, 4.6, 3.4, 4.4, 3.7, 6.3, 3.2, 6.3, 3.8, 5.7, 5.7,
  5.7, 6.8, 5.25,
  5.25, 7.0, 5.8,
  5.7, 3.7, 2.3, 4.3, 3.1, 4.0, 2.5, 3.6, 2.8, 3.8, 1.9, 4.6, 2.4, 4.1, 2.8, 4.0, 2.3, 4.3, 3.0, 4.0,
  2.7, 4.0, 3.2, 4.7, 3.7, 4.3, 6.7, 4.2, 6.0, 3.2, 4.1, 3.4, 4.8, 2.9, 4.1, 3.6, 4.6, 2.8, 4.2, 2.2,
  3.7, 1.9, 4.0, 3.4, 5.9, 3.1, 4.4, 6.3, 3.3, 4.6, 6.2, 3.3, 4.9, 3.6, 5.3, 4.6, 5.9,
  6.2, 6.6, 6.3
]

// residual distributions: kde curve points and histogram bin heights
const kdeXA = [-1.08, -0.9, -0.75, -0.6, -0.5, -0.4, -0.3, -0.25, -0.2, -0.15, -0.12, -0.09, -0.06, -0.04, -0.02, -0.01, 0, 0.01, 0.02, 0.04, 0.06, 0.08, 0.1, 0.13, 0.16, 0.2, 0.25, 0.3, 0.35, 0.45, 0.5, 0.6, 0.75, 0.9, 1.0]
const kdeYA = [0.005, 0.01, 0.025, 0.05, 0.08, 0.13, 0.23, 0.30, 0.50, 0.85, 1.2, 1.7, 2.5, 3.5, 4.7, 5.6, 6.38, 5.95, 5.2, 3.9, 2.9, 2.3, 1.75, 1.25, 0.9, 0.58, 0.33, 0.22, 0.15, 0.05, 0.03, 0.015, 0.006, 0.003, 0.002]
const histStartA = -0.6125, histWidthA = 0.025
const histA = [0.04, 0.05, 0.05, 0.06, 0.07, 0.08, 0.09, 0.11, 0.13, 0.15, 0.18, 0.20, 0.23, 0.26, 0.30, 0.38, 0.50, 0.66, 0.86, 1.13, 1.50, 2.10, 2.90, 4.30, 6.20, 4.70, 3.30, 2.40, 1.75, 1.30, 0.98, 0.72, 0.57, 0.44, 0.34, 0.28, 0.23, 0.18, 0.14, 0.11, 0.085, 0.065, 0.05, 0.04, 0.03, 0.025, 0.02, 0.015, 0.01]

const kdeXB = [-2.18, -1.9, -1.6, -1.45, -1.34, -1.15, -1.0, -0.88, -0.78, -0.65, -0.48, -0.31, -0.18, -0.07, 0.0, 0.056, 0.1, 0.16, 0.27, 0.38, 0.5, 0.63, 0.81, 0.95, 1.06, 1.18, 1.3, 1.6, 2.0, 2.5]
const kdeYB = [0.0, 0.003, 0.007, 0.015, 0.028, 0.042, 0.063, 0.11, 0.17, 0.25, 0.39, 0.66, 0.93, 1.04, 1.09, 1.126, 1.10, 1.015, 0.77, 0.56, 0.385, 0.27, 0.15, 0.10, 0.06, 0.03, 0.009, 0.005, 0.004, 0.001]
const histStartB = -1.65, histWidthB = 0.1
const histB = [0.007, 0.012, 0.02, 0.03, 0.038, 0.048, 0.065, 0.10, 0.16, 0.22, 0.29, 0.37, 0.50, 0.68, 0.88, 1.01, 1.09, 1.10, 0.95, 0.72, 0.53, 0.39, 0.30, 0.22, 0.155, 0.12, 0.08, 0.05, 0.03, 0.012, 0.006, 0.005, 0.004]

const kdeXC = [-2.28, -1.9, -1.6, -1.45, -1.39, -1.19, -1.08, -0.98, -0.77, -0.57, -0.4, -0.3, -0.197, -0.1, -0.03, 0.05, 0.13, 0.23, 0.33, 0.41, 0.52, 0.66, 0.84, 1.0, 1.1, 1.21, 1.3, 1.37, 1.54, 1.8, 2.12]
const kdeYC = [0.0, 0.003, 0.007, 0.018, 0.023, 0.033, 0.07, 0.118, 0.24, 0.378, 0.578, 0.777, 0.89, 0.94, 0.968, 0.95, 0.90, 0.794, 0.61, 0.49, 0.404, 0.205, 0.118, 0.075, 0.045, 0.018, 0.016, 0.014, 0.005, 0.002, 0.0]
const histStartC = -1.65, histWidthC = 0.1
const histC = [0.007, 0.012, 0.022, 0.028, 0.033, 0.06, 0.11, 0.16, 0.22, 0.29, 0.35, 0.45, 0.59, 0.78, 0.89, 0.94, 0.99, 0.92, 0.83, 0.66, 0.50, 0.42, 0.28, 0.18, 0.13, 0.10, 0.075, 0.05, 0.02, 0.016, 0.013, 0.006, 0.004]

const timeTicks = [0, 200, 400, 600, 800, 1000, 1200]
const deflTicks = [0, 2, 4, 6, 8]
const residXTicks = [[-1, -0.5, 0, 0.5, 1], [-2, 0, 2], [-2, -1, 0, 1, 2]]
const densityTicks = [[0, 1, 2, 3, 4, 5, 6], [0, 0.2, 0.4, 0.6, 0.8, 1.0], [0, 0.2, 0.4, 0.6, 0.8, 1.0]]

// ---- layout ----
const W = 3325, H = 2457
const FONT = "DejaVu Sans"
const SERIF = "Liberation Serif"
const INK = "#222"
const SPINE = "#333"

const panels = [
  { actual: actualA, predicted: predictedA, labelY: 547,
    time: { x0: 830.5, x1: 1790.6, y0: 214.4, y1: 775.8 },
    res: { x0: 2428, x1: 3020, y0: 201, y1: 777, xd: [-1.19, 1.10], yd: [0, 6.70], ylab: 78,
      kx: kdeXA, ky: kdeYA, hist: histA, hs: histStartA, hw: histWidthA, xf: d3.format(".1f"), yf: d3.format("d") } },
  { actual: actualB, predicted: predictedB, labelY: 1302,
    time: { x0: 826, x1: 1796, y0: 966, y1: 1533 },
    res: { x0: 2454, x1: 3029.5, y0: 966, y1: 1526, xd: [-2.38, 2.72], yd: [0, 1.182], ylab: 109,
      kx: kdeXB, ky: kdeYB, hist: histB, hs: histStartB, hw: histWidthB, xf: d3.format("d"), yf: d3.format(".1f") } },
  { actual: actualC, predicted: predictedC, labelY: 2052,
    time: { x0: 826, x1: 1796, y0: 1716, y1: 2283 },
    res: { x0: 2459, x1: 3022, y0: 1722, y1: 2271, xd: [-2.465, 2.33], yd: [0, 1.0375], ylab: 108,
      kx: kdeXC, ky: kdeYC, hist: histC, hs: histStartC, hw: histWidthC, xf: d3.format("d"), yf: d3.format(".1f") } }
]

panels.forEach((p, i) => {
  if (p.actual.length !== timeSteps.length || p.predicted.length !== timeSteps.length) {
    throw new Error(`series length mismatch in panel ${i}: ${p.actual.length} / ${p.predicted.length} vs ${timeSteps.length}`)
  }
})

const svg = d3.select("body").append("svg")
  .attr("width", W)
  .attr("height", H)
  .attr("viewBox", [0, 0, W, H])

svg.append("rect").attr("width", W).attr("height", H).attr("fill", "#fff")

// ---- table frame ----
const frame = svg.append("g").attr("stroke", "#000").attr("fill", "none")
frame.append("rect")
  .attr("x", 22.5).attr("y", 38.5).attr("width", 3275).attr("height", 2386)
  .attr("stroke-width", 19)
const rule = (x1, y1, x2, y2, w) => frame.append("line")
  .attr("x1", x1).attr("y1", y1).attr("x2", x2).attr("y2", y2).attr("stroke-width", w)
rule(32, 166, 3289, 166, 5)
rule(516, 174, 3289, 174, 6)
rule(268.5, 168, 268.5, 2415, 5)
rule(510.5, 168, 510.5, 2415, 5)
rule(518.5, 171, 518.5, 2415, 5)

const serifText = (x, y, str, rotate) => svg.append("text")
  .attr("transform", rotate ? `translate(${x},${y}) rotate(-90)` : `translate(${x},${y})`)
  .attr("text-anchor", "middle")
  .attr("font-family", SERIF)
  .attr("font-size", 72)
  .attr("fill", "#000")
  .text(str)

serifText(1287, 145, colHeaders[0])
serifText(2679, 145, colHeaders[1])
serifText(193, 1299, rowGroup, true)
panels.forEach((p, i) => serifText(432, p.labelY, classes[i], true))

// ---- helpers ----
function styleAxis(g) {
  g.select(".domain").remove()
  g.selectAll(".tick line").attr("stroke", SPINE).attr("stroke-width", 2.7)
  g.selectAll(".tick text")
    .attr("font-family", FONT)
    .attr("font-size", 33)
    .attr("fill", INK)
}

function frameAxes(g, b, x, y, xTicks, yTicks, xf, yf, xlabel, ylabel, ylabOff) {
  g.append("g")
    .attr("transform", `translate(0,${b.y1})`)
    .call(d3.axisBottom(x).tickValues(xTicks).tickFormat(xf).tickSize(12).tickPadding(13))
    .call(styleAxis)
  g.append("g")
    .attr("transform", `translate(${b.x0},0)`)
    .call(d3.axisLeft(y).tickValues(yTicks).tickFormat(yf).tickSize(12).tickPadding(9))
    .call(styleAxis)
  g.append("rect")
    .attr("x", b.x0).attr("y", b.y0)
    .attr("width", b.x1 - b.x0).attr("height", b.y1 - b.y0)
    .attr("fill", "none").attr("stroke", SPINE).attr("stroke-width", 2.7)
  g.append("text")
    .attr("x", (b.x0 + b.x1) / 2).attr("y", b.y1 + 95)
    .attr("text-anchor", "middle")
    .attr("font-family", FONT).attr("font-size", 34).attr("fill", INK)
    .text(xlabel)
  g.append("text")
    .attr("transform", `translate(${b.x0 - ylabOff},${(b.y0 + b.y1) / 2}) rotate(-90)`)
    .attr("dy", "0.36em")
    .attr("text-anchor", "middle")
    .attr("font-family", FONT).attr("font-size", 34).attr("fill", INK)
    .text(ylabel)
}

// ---- time marching plots ----
function timePlot(p, idx) {
  const b = p.time
  const g = svg.append("g").attr("class", "time-plot")
  const x = d3.scaleLinear().domain([0, 1200]).range([b.x0, b.x1])
  const y = d3.scaleLinear().domain([0, 9]).range([b.y1, b.y0])

  const clipId = "clip-time-" + idx
  g.append("clipPath").attr("id", clipId)
    .append("rect").attr("x", b.x0).attr("y", b.y0).attr("width", b.x1 - b.x0).attr("height", b.y1 - b.y0)

  const pts = arr => timeSteps.map((t, i) => [t, arr[i]]).filter(d => d[1] != null)
  const line = d3.line().x(d => x(d[0])).y(d => y(d[1]))

  const lines = g.append("g").attr("clip-path", `url(#${clipId})`)
    .attr("fill", "none").attr("stroke-linejoin", "round")
  lines.append("path")
    .datum(pts(p.actual))
    .attr("d", line)
    .attr("stroke", "#0000ff")
    .attr("stroke-width", 5.2)
  lines.append("path")
    .datum(pts(p.predicted))
    .attr("d", line)
    .attr("stroke", "#ff0000")
    .attr("stroke-width", 4.6)
    .attr("stroke-dasharray", "19 8")

  frameAxes(g, b, x, y, timeTicks, deflTicks, d3.format("d"), d3.format("d"),
    "Time (s)", "Blade Tip Flapwise Deflection (m)", 79)

  // legend
  const lg = g.append("g").attr("transform", `translate(${b.x0 + 17},${b.y0 + 18})`)
  lg.append("rect")
    .attr("width", 472).attr("height", 112).attr("rx", 8)
    .attr("fill", "#fff").attr("fill-opacity", 0.8)
    .attr("stroke", "#cccccc").attr("stroke-width", 2.7)
  const rows = [
    { name: seriesNames[0], color: "#0000ff", dash: null, w: 5.2 },
    { name: seriesNames[1], color: "#ff0000", dash: "19 8", w: 4.6 }
  ]
  rows.forEach((r, k) => {
    const yy = 28 + k * 51
    lg.append("line")
      .attr("x1", 10).attr("x2", 86).attr("y1", yy).attr("y2", yy)
      .attr("stroke", r.color).attr("stroke-width", r.w)
      .attr("stroke-dasharray", r.dash)
    lg.append("text")
      .attr("x", 109).attr("y", yy + 12)
      .attr("font-family", FONT).attr("font-size", 34).attr("fill", INK)
      .text(r.name)
  })
}

// ---- residual distribution plots ----
function residPlot(p, idx) {
  const r = p.res
  const g = svg.append("g").attr("class", "resid-plot")
  const x = d3.scaleLinear().domain(r.xd).range([r.x0, r.x1])
  const y = d3.scaleLinear().domain(r.yd).range([r.y1, r.y0])

  // histogram bars (seaborn C0 at 0.4 alpha on white, drawn opaque so overlaps don't stripe)
  g.append("g")
    .attr("fill", "#a5c9e1")
    .attr("shape-rendering", "crispEdges")
    .selectAll("rect")
    .data(r.hist)
    .join("rect")
    .attr("x", (d, i) => x(r.hs + i * r.hw))
    .attr("width", (d, i) => x(r.hs + (i + 1) * r.hw) - x(r.hs + i * r.hw) + 0.6)
    .attr("y", d => y(d))
    .attr("height", d => y(0) - y(d))

  const kde = r.kx.map((v, i) => [v, r.ky[i]])
  g.append("path")
    .datum(kde)
    .attr("d", d3.line().x(d => x(d[0])).y(d => y(d[1])).curve(d3.curveMonotoneX))
    .attr("fill", "none")
    .attr("stroke", "#1f77b4")
    .attr("stroke-width", 3.6)
    .attr("stroke-linejoin", "round")

  frameAxes(g, r, x, y, residXTicks[idx], densityTicks[idx], r.xf, r.yf,
    "Flapwise Deflection Residuals (m)", "Density", r.ylab)
}

panels.forEach((p, i) => {
  timePlot(p, i)
  residPlot(p, i)
})
</script>
</body>
</html>
